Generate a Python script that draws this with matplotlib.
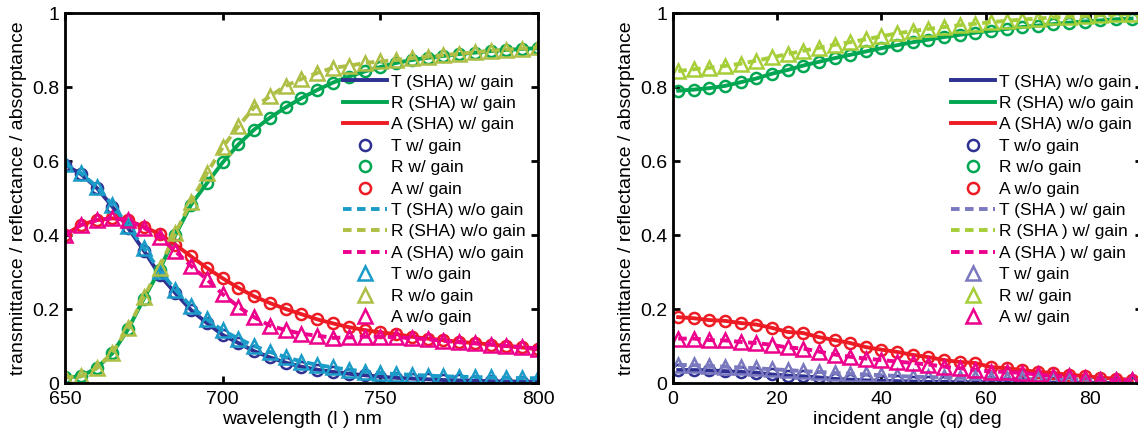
import numpy as np
import matplotlib
matplotlib.use("Agg")
import matplotlib.pyplot as plt

plt.rcParams['font.family'] = ['Liberation Sans', 'DejaVu Sans']

# left panel: spectra vs wavelength (nm)
wavelength = np.arange(650, 801, 5)
T_gain = [0.590, 0.565, 0.528, 0.477, 0.419, 0.358, 0.292, 0.243, 0.197, 0.162, 0.130,
          0.108, 0.086, 0.069, 0.055, 0.044, 0.036, 0.030, 0.025, 0.021, 0.017,
          0.014, 0.012, 0.010, 0.008, 0.007, 0.006, 0.005, 0.004, 0.004, 0.003]
R_gain = [0.015, 0.018, 0.040, 0.080, 0.145, 0.228, 0.305, 0.400, 0.482, 0.540, 0.596,
          0.645, 0.685, 0.717, 0.745, 0.770, 0.792, 0.812, 0.828, 0.842, 0.854,
          0.865, 0.873, 0.879, 0.884, 0.889, 0.893, 0.897, 0.900, 0.903, 0.905]
A_gain = [0.400, 0.427, 0.440, 0.445, 0.440, 0.422, 0.403, 0.374, 0.342, 0.311, 0.283,
          0.257, 0.234, 0.216, 0.200, 0.186, 0.172, 0.161, 0.151, 0.143, 0.137,
          0.132, 0.125, 0.120, 0.116, 0.111, 0.108, 0.104, 0.100, 0.096, 0.091]
T_nogain = [0.592, 0.568, 0.531, 0.482, 0.424, 0.365, 0.303, 0.252, 0.207, 0.172, 0.142,
            0.120, 0.100, 0.084, 0.070, 0.058, 0.049, 0.042, 0.036, 0.031, 0.027,
            0.024, 0.022, 0.020, 0.018, 0.017, 0.016, 0.015, 0.014, 0.013, 0.013]
R_nogain = [0.015, 0.018, 0.040, 0.082, 0.148, 0.232, 0.312, 0.405, 0.490, 0.567, 0.637,
            0.694, 0.745, 0.775, 0.803, 0.822, 0.838, 0.852, 0.857, 0.865, 0.869,
            0.873, 0.878, 0.882, 0.886, 0.890, 0.894, 0.898, 0.901, 0.904, 0.907]
A_nogain = [0.400, 0.427, 0.440, 0.446, 0.440, 0.420, 0.395, 0.356, 0.316, 0.280, 0.240,
            0.206, 0.178, 0.155, 0.143, 0.133, 0.128, 0.122, 0.123, 0.125, 0.125,
            0.124, 0.121, 0.118, 0.114, 0.110, 0.107, 0.104, 0.100, 0.097, 0.093]

# right panel: spectra vs incident angle (deg)
angle = np.arange(1, 89, 3)
T2_nogain = [0.035, 0.035, 0.034, 0.032, 0.030, 0.028, 0.023, 0.020, 0.018, 0.015,
             0.011, 0.009, 0.007, 0.006, 0.005, 0.004, 0.003, 0.003, 0.002, 0.002,
             0.002, 0.001, 0.001, 0.001, 0.001, 0.001, 0.000, 0.000, 0.000, 0.000]
R2_nogain = [0.790, 0.793, 0.797, 0.803, 0.813, 0.823, 0.836, 0.846, 0.858, 0.868,
             0.878, 0.887, 0.896, 0.905, 0.913, 0.921, 0.928, 0.935, 0.941, 0.947,
             0.952, 0.957, 0.962, 0.966, 0.970, 0.974, 0.977, 0.980, 0.983, 0.985]
A2_nogain = [0.178, 0.175, 0.170, 0.168, 0.162, 0.158, 0.149, 0.138, 0.135, 0.124,
             0.116, 0.108, 0.097, 0.090, 0.084, 0.076, 0.070, 0.062, 0.057, 0.054,
             0.043, 0.040, 0.035, 0.030, 0.027, 0.022, 0.019, 0.014, 0.012, 0.008]
T2_gain = [0.049, 0.048, 0.046, 0.044, 0.042, 0.040, 0.037, 0.035, 0.032, 0.030,
           0.027, 0.025, 0.023, 0.021, 0.019, 0.017, 0.016, 0.015, 0.014, 0.013,
           0.012, 0.011, 0.011, 0.010, 0.010, 0.009, 0.009, 0.008, 0.008, 0.008]
R2_gain = [0.843, 0.848, 0.852, 0.857, 0.863, 0.871, 0.880, 0.889, 0.898, 0.906,
           0.914, 0.921, 0.929, 0.937, 0.945, 0.951, 0.957, 0.962, 0.967, 0.971,
           0.975, 0.979, 0.982, 0.985, 0.988, 0.990, 0.992, 0.994, 0.996, 0.997]
A2_gain = [0.120, 0.120, 0.116, 0.115, 0.111, 0.108, 0.103, 0.096, 0.093, 0.085,
           0.077, 0.071, 0.066, 0.062, 0.058, 0.054, 0.050, 0.044, 0.040, 0.035,
           0.031, 0.030, 0.027, 0.023, 0.019, 0.018, 0.014, 0.009, 0.008, 0.008]

navy, green, red = '#2E3192', '#00A651', '#ED1C24'
cyan, olive, magenta = '#1B9BC8', '#AFBE45', '#EC008C'
lavender, lime = '#7A78BE', '#A6CE39'

LW = 2.8
MS_O, MS_T, MEW = 8, 10, 1.8
DASH = (0, (2.2, 1.4))


def add_set(ax, x, ys, colors, line_labels, mark_labels, ls, marker, ms):
    for y, c, lab in zip(ys, colors, line_labels):
        ax.plot(x, y, color=c, lw=LW, ls=ls, label=lab)
    for y, c, lab in zip(ys, colors, mark_labels):
        ax.plot(x, y, ls='none', marker=marker, ms=ms, mfc='none', mec=c, mew=MEW, label=lab)


def style(ax, xlim, xticks, xlabel):
    ax.set_xlim(*xlim)
    ax.set_ylim(0, 1)
    ax.set_xticks(xticks)
    ax.set_yticks([0, 0.2, 0.4, 0.6, 0.8, 1])
    ax.set_yticklabels(['0', '0.2', '0.4', '0.6', '0.8', '1'])
    ax.tick_params(direction='in', length=5, width=2, labelsize=14, top=True, right=True, pad=6)
    ax.tick_params(axis='y', pad=4)
    for s in ax.spines.values():
        s.set_linewidth(2)
    ax.set_xlabel(xlabel, fontsize=14, labelpad=2)
    ax.set_ylabel('transmittance / reflectance / absorptance', fontsize=14, labelpad=4)


fig = plt.figure(figsize=(11.38, 4.32), dpi=100)
ax1 = fig.add_axes([65 / 1138, 49 / 432, 473 / 1138, 370 / 432])
ax2 = fig.add_axes([673 / 1138, 49 / 432, 469 / 1138, 370 / 432])

add_set(ax1, wavelength, [T_gain, R_gain, A_gain], [navy, green, red],
        ['T (SHA) w/ gain', 'R (SHA) w/ gain', 'A (SHA) w/ gain'],
        ['T w/ gain', 'R w/ gain', 'A w/ gain'], '-', 'o', MS_O)
add_set(ax1, wavelength, [T_nogain, R_nogain, A_nogain], [cyan, olive, magenta],
        ['T (SHA) w/o gain', 'R (SHA) w/o gain', 'A (SHA) w/o gain'],
        ['T w/o gain', 'R w/o gain', 'A w/o gain'], DASH, '^', MS_T)
style(ax1, (650, 800), [650, 700, 750, 800], 'wavelength (l ) nm')

add_set(ax2, angle, [T2_nogain, R2_nogain, A2_nogain], [navy, green, red],
        ['T (SHA) w/o gain', 'R (SHA) w/o gain', 'A (SHA) w/o gain'],
        ['T w/o gain', 'R w/o gain', 'A w/o gain'], '-', 'o', MS_O)
add_set(ax2, angle, [T2_gain, R2_gain, A2_gain], [lavender, lime, magenta],
        ['T (SHA ) w/ gain', 'R (SHA ) w/ gain', 'A (SHA ) w/ gain'],
        ['T w/ gain', 'R w/ gain', 'A w/ gain'], DASH, '^', MS_T)
style(ax2, (0, 90), [0, 20, 40, 60, 80], 'incident angle (q) deg')

for ax, x0 in ((ax1, 0.588), (ax2, 0.593)):
    ax.legend(loc='upper left', bbox_to_anchor=(x0, 0.834), frameon=False, fontsize=12.5,
              handlelength=2.5, handletextpad=0.25, labelspacing=0.36, borderpad=0,
              borderaxespad=0, numpoints=1)

fig.savefig('out.png', dpi=100)
